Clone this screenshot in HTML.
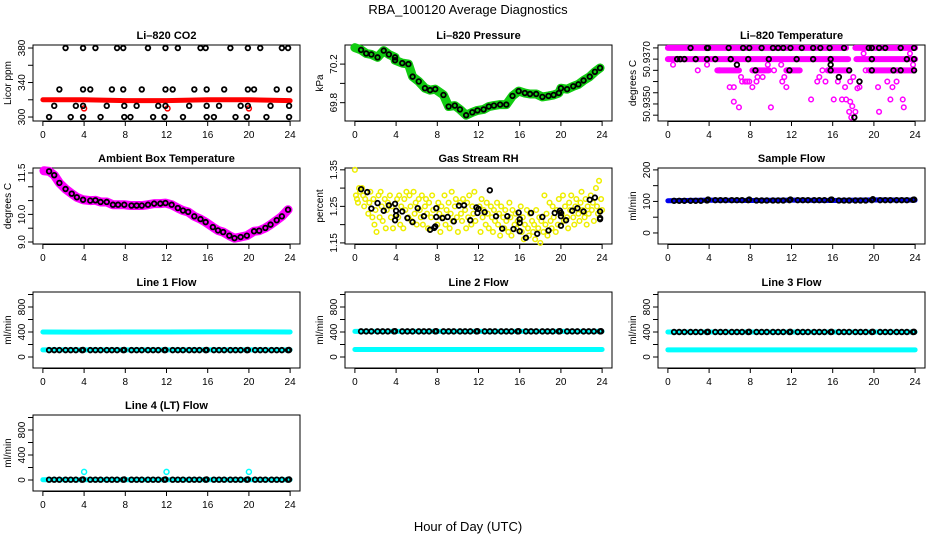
<!DOCTYPE html>
<html><head><meta charset="utf-8"><style>
body{margin:0;background:#fff}
svg{display:block;font-family:"Liberation Sans",sans-serif}
</style></head><body>
<svg id="c" width="936" height="540" viewBox="0 0 936 540">
<text x="468" y="14" text-anchor="middle" font-size="13">RBA_100120  Average Diagnostics</text>
<text x="468" y="531" text-anchor="middle" font-size="13">Hour of Day (UTC)</text>
</svg>
<script>
// ---- data ----
const co2Hours380=[2.2,3.9,5.1,7.2,7.8,10.2,11.9,13.1,15.3,15.8,18.2,19.9,21.1,23.2,23.8];
const co2Hours332=[1.6,3.9,4.6,6.7,7.8,9.6,11.9,12.6,14.7,15.9,17.6,19.9,20.5,22.7,23.9];
const co2Hours313=[1.1,3.2,3.9,6.2,7.9,9.1,11.2,11.9,14.2,15.9,17.1,19.2,19.9,22.1,23.9];
const co2Hours300=[0.6,2.7,3.9,5.6,7.9,8.5,10.7,11.8,13.6,15.9,16.6,18.7,19.8,21.7,23.9];
const co2Levels=[380,332,313,300];
const co2RedHours=[0,4,8,12,16,20,24];
const co2RedVals=[320,320,319,319,320,320,319];
const co2RedDips=[4.0,12.1,20.0];
const co2RedDipVal=[310,310,310];

const presHours=[0,0.6,1.1,1.6,2.2,2.8,3.3,3.9,3.9,4.6,5.2,5.6,6.2,6.8,7.3,7.8,8.6,9.1,9.7,10.2,10.8,11.4,11.9,12.5,13.0,13.5,14.1,14.7,15.3,15.9,16.5,17.0,17.6,18.2,18.8,19.3,19.8,20.0,20.6,21.2,21.7,22.2,22.8,23.3,23.8];
const presVals=[70.37,70.347,70.31,70.30,70.27,70.34,70.30,70.27,70.24,70.21,70.20,70.07,70.02,69.95,69.93,69.94,69.88,69.76,69.77,69.73,69.67,69.70,69.72,69.73,69.76,69.77,69.78,69.78,69.87,69.92,69.90,69.89,69.89,69.86,69.87,69.88,69.90,69.95,69.94,69.97,69.99,70.03,70.07,70.12,70.16];

const tBandLevels=[50.9375,50.9375,50.9370,50.9370,50.9365,50.9365,50.9365,50.9365,50.9365];
const tBandStart=[0,18.2,0,18.3,4.8,8.2,11.5,15.5,19.6];
const tBandEnd=[17.3,24,17.5,24,6.9,9.7,12.8,17.6,23.9];
const tMagH=[0.5,2.9,3.8,5.0,6.0,6.4,6.4,6.9,7.1,7.2,7.5,7.7,7.9,8.2,8.6,8.7,9.2,9.7,9.8,10.3,10.0,11.0,11.1,11.3,11.6,11.5,13.9,14.5,14.7,15.0,15.3,16.1,16.5,16.9,17.2,17.3,17.7,17.7,17.9,17.6,17.8,18.0,18.2,18.4,18.6,18.6,19.0,19.2,19.5,20.4,20.5,21.3,21.8,21.6,22.2,22.8,22.9,23.5,23.8];
const tMagV=[50.93675,50.9365,50.93675,50.9365,50.93575,50.93575,50.9351,50.93485,50.9362,50.9360,50.9360,50.9360,50.9360,50.93575,50.9360,50.9362,50.9362,50.93675,50.9365,50.9365,50.93485,50.93675,50.9360,50.9362,50.9365,50.93575,50.9352,50.9360,50.9362,50.9365,50.9360,50.9352,50.9360,50.9352,50.93575,50.9352,50.9360,50.9351,50.9349,50.93465,50.9344,50.9362,50.93465,50.9357,50.9360,50.93575,50.93725,50.9365,50.9365,50.93575,50.93465,50.9360,50.93575,50.9352,50.9360,50.9352,50.93485,50.93725,50.93675];
const tBlkH=[2.2,3.8,3.9,5.9,7.3,7.9,9.1,10.2,10.7,11.2,11.9,13.0,14.1,14.8,15.7,17.1,19.5,19.8,20.5,21.1,22.6,23.9,0.9,1.2,1.6,2.7,3.8,4.6,6.1,7.8,9.8,12.5,14.1,15.8,19.8,23.2,23.9,6.7,8.5,11.8,15.8,15.8,16.6,17.6,18.6,18.1,19.8,21.9,22.6,23.9];
const tBlkV=[50.9375,50.9375,50.9375,50.9375,50.9375,50.9375,50.9375,50.9375,50.9375,50.9375,50.9375,50.9375,50.9375,50.9375,50.9375,50.9375,50.9375,50.9375,50.9375,50.9375,50.9375,50.9375,50.9370,50.9370,50.9370,50.9370,50.9370,50.9370,50.9370,50.9370,50.9370,50.9370,50.9370,50.9370,50.9370,50.9370,50.9370,50.93675,50.9365,50.9365,50.93675,50.9365,50.9362,50.9365,50.9360,50.9344,50.9365,50.9365,50.9365,50.9365];

const ambHours=[0.1,0.6,1.1,1.6,2.2,2.8,3.3,3.9,4.6,5.1,5.6,6.2,6.8,7.3,7.9,8.6,9.1,9.6,10.2,10.8,11.4,11.9,12.5,13.1,13.6,14.1,14.7,15.3,15.8,16.5,17.0,17.5,18.1,18.6,19.2,19.8,20.5,21.0,21.6,22.1,22.7,23.2,23.8];
const ambVals=[11.58,11.56,11.42,11.14,10.92,10.75,10.62,10.53,10.50,10.51,10.45,10.45,10.35,10.35,10.35,10.32,10.32,10.32,10.35,10.39,10.39,10.41,10.35,10.23,10.14,10.09,9.93,9.83,9.72,9.54,9.42,9.36,9.23,9.14,9.18,9.23,9.39,9.41,9.51,9.63,9.79,9.93,10.17];

const rhBlkH=[0.6,1.2,1.6,2.2,2.8,3.3,3.9,3.9,4.0,4.0,4.6,5.1,5.6,6.1,6.7,7.3,7.7,7.8,7.9,7.9,8.5,9.0,9.6,10.1,10.6,11.2,11.8,11.9,12.0,12.6,13.1,13.7,14.3,14.8,15.4,15.9,16.0,16.0,16.0,16.6,17.1,17.7,18.2,18.8,19.4,19.9,20.0,20.0,20.0,20.5,21.1,21.6,22.2,22.8,23.3,23.8,23.8,23.8];
const rhBlkV=[1.297,1.289,1.244,1.259,1.238,1.253,1.257,1.212,1.238,1.225,1.236,1.218,1.207,1.245,1.223,1.186,1.191,1.195,1.221,1.245,1.218,1.221,1.209,1.252,1.253,1.212,1.247,1.232,1.243,1.234,1.294,1.223,1.189,1.223,1.188,1.233,1.215,1.205,1.182,1.164,1.232,1.175,1.221,1.184,1.232,1.238,1.232,1.223,1.197,1.212,1.238,1.245,1.236,1.268,1.274,1.218,1.236,1.215];
const rhYelH=[0,0.1,0.2,0.3,0.4,0.5,0.7,0.8,0.9,1.0,1.3,1.4,1.5,1.7,1.8,1.9,2.0,2.1,2.3,2.4,2.5,2.6,2.7,2.9,3.0,3.1,3.2,3.4,3.5,3.6,3.7,4.1,4.2,4.3,4.4,4.5,4.7,4.8,4.9,5.0,5.2,5.3,5.4,5.5,5.7,5.8,5.9,6.0,6.2,6.3,6.4,6.5,6.6,6.8,6.9,7.0,7.1,7.2,7.4,7.5,7.6,8.0,8.1,8.2,8.3,8.4,8.6,8.7,8.8,8.9,9.1,9.2,9.3,9.4,9.5,9.7,9.8,9.9,10.0,10.2,10.3,10.4,10.5,10.7,10.8,10.9,11.0,11.1,11.3,11.4,11.5,11.6,11.7,12.1,12.2,12.3,12.4,12.5,12.7,12.8,12.9,13.0,13.2,13.3,13.4,13.5,13.6,13.8,13.9,14.0,14.1,14.2,14.4,14.5,14.6,14.7,14.9,15.0,15.1,15.2,15.3,15.5,15.6,15.7,15.8,16.1,16.2,16.3,16.4,16.5,16.7,16.8,16.9,17.0,17.2,17.3,17.4,17.5,17.6,17.8,17.9,18.0,18.1,18.3,18.4,18.5,18.6,18.7,18.9,19.0,19.1,19.2,19.3,19.5,19.6,19.7,19.8,20.1,20.2,20.3,20.4,20.6,20.7,20.8,20.9,21.0,21.2,21.3,21.4,21.5,21.7,21.8,21.9,22.0,22.1,22.3,22.4,22.5,22.6,22.7,22.9,23.0,23.1,23.2,23.4,23.5,23.6,23.7,23.9,24.0];
const rhYelV=[1.35,1.28,1.27,1.26,1.30,1.29,1.30,1.28,1.25,1.27,1.23,1.26,1.29,1.22,1.27,1.20,1.24,1.18,1.28,1.22,1.29,1.25,1.21,1.27,1.19,1.24,1.26,1.28,1.22,1.25,1.19,1.27,1.22,1.28,1.20,1.25,1.19,1.27,1.24,1.29,1.22,1.28,1.25,1.21,1.29,1.23,1.26,1.20,1.27,1.24,1.22,1.28,1.20,1.25,1.27,1.23,1.19,1.26,1.22,1.28,1.24,1.20,1.26,1.23,1.18,1.25,1.22,1.28,1.20,1.24,1.26,1.19,1.23,1.29,1.21,1.25,1.27,1.22,1.18,1.26,1.23,1.21,1.27,1.24,1.19,1.26,1.22,1.28,1.20,1.25,1.23,1.29,1.21,1.25,1.18,1.27,1.22,1.24,1.20,1.26,1.23,1.19,1.25,1.22,1.18,1.24,1.21,1.26,1.20,1.23,1.17,1.25,1.22,1.19,1.24,1.21,1.18,1.26,1.22,1.17,1.24,1.20,1.23,1.19,1.21,1.25,1.18,1.22,1.16,1.20,1.24,1.19,1.17,1.23,1.21,1.18,1.20,1.16,1.24,1.19,1.22,1.15,1.21,1.18,1.28,1.20,1.23,1.17,1.26,1.21,1.19,1.25,1.22,1.18,1.24,1.20,1.27,1.23,1.28,1.21,1.25,1.22,1.19,1.26,1.24,1.28,1.22,1.20,1.25,1.27,1.23,1.21,1.26,1.29,1.24,1.22,1.27,1.20,1.25,1.23,1.28,1.24,1.26,1.21,1.30,1.25,1.23,1.32,1.27,1.24,1.31,1.26,1.22,1.25,1.28];

const flowBlkHours=[0.6,1.1,1.6,2.2,2.7,3.2,3.8,3.9,4.6,5.1,5.6,6.2,6.7,7.2,7.8,7.9,8.6,9.1,9.6,10.2,10.7,11.2,11.8,11.9,12.6,13.1,13.6,14.2,14.7,15.2,15.8,15.9,16.6,17.1,17.6,18.2,18.7,19.2,19.8,19.9,20.6,21.1,21.6,22.2,22.7,23.2,23.8,23.9];
const sampleVals=[102,102,102,102,102,102,103,106,104,104,104,104,104,104,104,106,103,103,103,103,103,103,104,106,104,104,104,104,104,104,105,106,103,103,103,103,103,103,104,107,104,104,104,104,104,104,105,106];
const line1Vals=[110,110,110,110,110,110,110,112,110,110,110,110,110,110,110,112,110,110,110,110,110,110,110,112,110,110,110,110,110,110,110,112,110,110,110,110,110,110,110,112,110,110,110,110,110,110,110,112];
const line2Vals=[410,410,410,410,410,410,410,412,410,410,410,410,410,410,410,412,410,410,410,410,410,410,410,412,410,410,410,410,410,410,410,412,410,410,410,410,410,410,410,412,410,410,410,410,410,410,410,412];
const line3Vals=[400,400,400,400,400,400,400,402,400,400,400,400,400,400,400,402,400,400,400,400,400,400,400,402,400,400,400,400,400,400,400,402,400,400,400,400,400,400,400,402,400,400,400,400,400,400,400,402];
const line4Vals=[5,5,5,5,5,5,5,8,5,5,5,5,5,5,5,8,5,5,5,5,5,5,5,8,5,5,5,5,5,5,5,8,5,5,5,5,5,5,5,8,5,5,5,5,5,5,5,8];
const bandHours=[0,4,8,12,16,20,24];
const sampleBand=[102,104,103,104,103,105,104];
const line1Upper=[400,398,400,400,402,402,400];
const line1Lower=[115,115,115,115,115,115,115];
const line2Upper=[410,410,410,410,410,410,410];
const line2Lower=[120,120,120,120,120,120,120];
const line3Upper=[400,400,400,400,400,400,400];
const line3Lower=[115,115,115,115,115,115,115];
const line4Band=[5,5,5,5,5,5,5];
const line4Spikes=[4,12,20];
const line4SpikeVals=[130,130,130];
const xTicks=[0,4,8,12,16,20,24];

// ---- drawing ----
const NS='http://www.w3.org/2000/svg';
const svg=document.getElementById('c');
function el(tag,parent){const e=document.createElementNS(NS,tag);parent.appendChild(e);return e;}
const colL=[33,345,658], rowT=[45,168,292,415], PW=267, PH=76;

function panel(ci,ri,title,ylab,ylo,yhi,yticks,ylabels,name){
  const g=el('g',svg);
  
  
  const x0=colL[ci], y0=rowT[ri];
  const sx=h=>x0+(h+0.96)/25.92*PW;
  const sy=v=>y0+PH-(v-ylo)/(yhi-ylo)*PH;
  const t=el('text',g);t.textContent=title;
  t.setAttribute('x',x0+PW/2);t.setAttribute('y',y0-6);t.setAttribute('text-anchor','middle');
  t.setAttribute('font-size','11');t.setAttribute('font-weight','bold');
  
  
  const yl=el('text',g);yl.textContent=ylab;
  yl.setAttribute('transform',`translate(${x0-22},${y0+PH/2}) rotate(-90)`);
  yl.setAttribute('text-anchor','middle');yl.setAttribute('font-size','10');
  
  
  const ax=el('g',g);
  
  
  ax.setAttribute('stroke','#000');ax.setAttribute('stroke-width','1');
  xTicks.forEach(h=>{const l=el('line',ax);l.setAttribute('x1',sx(h));l.setAttribute('x2',sx(h));l.setAttribute('y1',y0+PH);l.setAttribute('y2',y0+PH+5);
    const tx=el('text',g);tx.textContent=h;tx.setAttribute('x',sx(h));tx.setAttribute('y',y0+PH+17);tx.setAttribute('text-anchor','middle');tx.setAttribute('font-size','10');
    
    });
  const xl=el('line',ax);xl.setAttribute('x1',sx(0));xl.setAttribute('x2',sx(24));xl.setAttribute('y1',y0+PH+0.5);xl.setAttribute('y2',y0+PH+0.5);
  yticks.forEach(v=>{const l=el('line',ax);l.setAttribute('x1',x0-5);l.setAttribute('x2',x0);l.setAttribute('y1',sy(v));l.setAttribute('y2',sy(v));});
  ylabels.forEach(v=>{const tx=el('text',g);tx.textContent=v[1];
    tx.setAttribute('transform',`translate(${x0-8},${sy(v[0])}) rotate(-90)`);tx.setAttribute('text-anchor','middle');tx.setAttribute('font-size','10');
    
    });
  const r=el('rect',g);r.setAttribute('x',x0);r.setAttribute('y',y0);r.setAttribute('width',PW);r.setAttribute('height',PH);
  r.setAttribute('fill','none');r.setAttribute('stroke','#000');
  
  
  return {g,sx,sy};
}
function pts(P,hs,vs,col,rad,sw,nm){
  hs.forEach((h,i)=>{const c=el('circle',P.g);c.setAttribute('cx',P.sx(h));c.setAttribute('cy',P.sy(vs[i]));c.setAttribute('r',rad);
    c.setAttribute('fill','none');c.setAttribute('stroke',col);c.setAttribute('stroke-width',sw);
    
    });
}
function band(P,hs,vs,col,w,nm){
  const p=el('polyline',P.g);p.setAttribute('points',hs.map((h,i)=>P.sx(h)+','+P.sy(vs[i])).join(' '));
  p.setAttribute('fill','none');p.setAttribute('stroke',col);p.setAttribute('stroke-width',w);p.setAttribute('stroke-linecap','round');p.setAttribute('stroke-linejoin','round');
  
  
}
const BK='#000', BW=1.8;
// CO2
let P=panel(0,0,'Li\u2013820 CO2','Licor ppm',295.4,383.5,[300,320,340,360,380],[[300,'300'],[340,'340'],[380,'380']],'co2');
band(P,co2RedHours,co2RedVals,'#f00',5,'co2-red-band');
pts(P,co2RedDips,co2RedDipVal,'#f00',2.5,1.5,'co2-red-point');
[co2Hours380,co2Hours332,co2Hours313,co2Hours300].forEach((hs,k)=>pts(P,hs,hs.map(()=>co2Levels[k]),BK,2.3,BW,'co2-hourly-point'));
// Pressure
P=panel(1,0,'Li\u2013820 Pressure','kPa',69.61,70.398,[69.8,70.0,70.2],[[69.8,'69.8'],[70.2,'70.2']],'pressure');
band(P,presHours,presVals,'#1c1',9,'pressure-green-band');
pts(P,presHours.slice(1),presVals.slice(1),BK,2.3,BW,'pressure-hourly-point');
// Temperature
P=panel(2,0,'Li\u2013820 Temperature','degrees C',50.93424,50.93763,[50.9345,50.9350,50.9355,50.9360,50.9365,50.9370,50.9375],[[50.9350,'50.9350'],[50.9370,'50.9370']],'li-temp');
tBandLevels.forEach((lv,i)=>band(P,[tBandStart[i],tBandEnd[i]],[lv,lv],'#f0f',6,'temp-magenta-band'));
pts(P,tMagH,tMagV,'#f0f',2.3,1.5,'temp-magenta-point');
pts(P,tBlkH,tBlkV,BK,2.3,BW,'temp-hourly-point');
// Ambient
P=panel(0,1,'Ambient Box Temperature','degrees C',8.928,11.68,[9,9.5,10,10.5,11,11.5],[[9,'9.0'],[10,'10.0'],[11.5,'11.5']],'ambient');
band(P,ambHours,ambVals,'#f0f',9,'ambient-magenta-band');
pts(P,ambHours.slice(1),ambVals.slice(1),BK,2.3,BW,'ambient-hourly-point');
// RH
P=panel(1,1,'Gas Stream RH','percent',1.147,1.355,[1.15,1.2,1.25,1.3,1.35],[[1.15,'1.15'],[1.25,'1.25'],[1.35,'1.35']],'rh');
pts(P,rhYelH,rhYelV,'#ee0',2.3,1.5,'rh-yellow-point');
pts(P,rhBlkH,rhBlkV,BK,2.3,BW,'rh-hourly-point');
// Sample flow
P=panel(2,1,'Sample Flow','ml/min',-35,206,[0,50,100,150,200],[[0,'0'],[100,'100'],[200,'200']],'sample-flow');
band(P,bandHours,sampleBand,'#00e',5,'sample-blue-band');
pts(P,flowBlkHours,sampleVals,BK,2.3,BW,'sample-hourly-point');
const fT=[0,200,400,600,800,1000], fL=[[0,'0'],[400,'400'],[800,'800']];
// Line 1
P=panel(0,2,'Line 1 Flow','ml/min',-176,1040,fT,fL,'line1-flow');
band(P,bandHours,line1Upper,'#0ff',5,'line1-cyan-upper');
band(P,bandHours,line1Lower,'#0ff',5,'line1-cyan-lower');
pts(P,flowBlkHours,line1Vals,BK,2.3,BW,'line1-hourly-point');
// Line 2
P=panel(1,2,'Line 2 Flow','ml/min',-176,1040,fT,fL,'line2-flow');
band(P,bandHours,line2Upper,'#0ff',5,'line2-cyan-upper');
band(P,bandHours,line2Lower,'#0ff',5,'line2-cyan-lower');
pts(P,flowBlkHours,line2Vals,BK,2.3,BW,'line2-hourly-point');
// Line 3
P=panel(2,2,'Line 3 Flow','ml/min',-176,1040,fT,fL,'line3-flow');
band(P,bandHours,line3Upper,'#0ff',5,'line3-cyan-upper');
band(P,bandHours,line3Lower,'#0ff',5,'line3-cyan-lower');
pts(P,flowBlkHours,line3Vals,BK,2.3,BW,'line3-hourly-point');
// Line 4
P=panel(0,3,'Line 4 (LT) Flow','ml/min',-176,1040,fT,fL,'line4-flow');
band(P,bandHours,line4Band,'#0ff',5,'line4-cyan-band');
pts(P,line4Spikes,line4SpikeVals,'#0ff',2.5,1.5,'line4-cyan-spike');
pts(P,flowBlkHours,line4Vals,BK,2.3,BW,'line4-hourly-point');
</script>
</body></html>
